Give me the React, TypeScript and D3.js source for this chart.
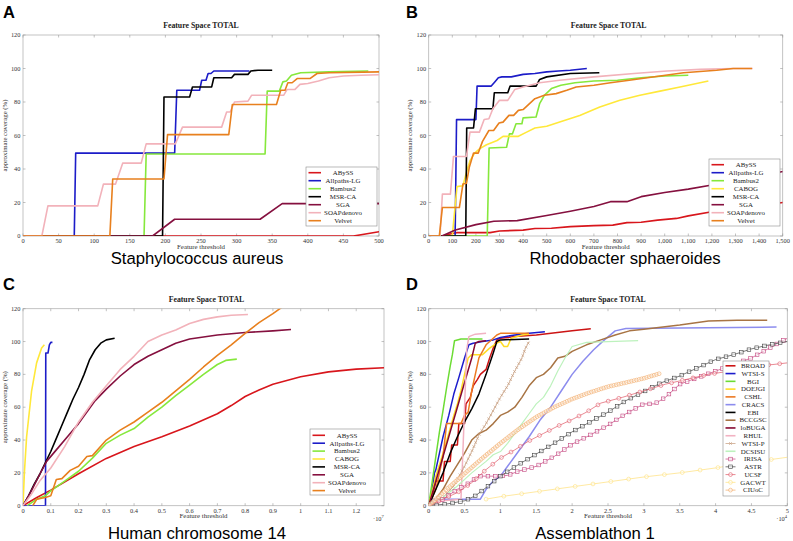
import React from 'react';
import * as d3 from 'd3';

type Pt = [number, number];

// ---------- Panel A : Staphylococcus aureus ----------
const A_ABySS: Pt[] = [[0,0],[464,0],[500,2.5]];
const A_Allpaths: Pt[] = [[0,0],[72,0],[74,49.5],[213,49.5],[216,87],[248,87],[251,93],[257,93],[260,97],[264,97],[268,98.5],[318,98.5]];
const A_Bambus2: Pt[] = [[0,0],[170,0],[173,49],[340,49],[343,86.5],[360,86.5],[365,92],[370,92.5],[377,96],[390,97.5],[430,98],[485,98.5]];
const A_MSRCA: Pt[] = [[0,0],[196,0],[198,83],[234,83],[238,89],[265,89],[268,94.5],[293,94.5],[297,96.5],[316,96.5],[320,98.5],[330,99],[350,99]];
const A_SGA: Pt[] = [[0,0],[182,0],[213,10],[333,10],[364,19.3],[500,19.3]];
const A_SOAP: Pt[] = [[0,0],[26.5,0],[35,18],[105,18],[113,31],[130,31],[140,43.5],[166,43.5],[173,55],[214,55],[224,65],[279,65],[286,74],[291,74],[297,80],[316,80.5],[321,84],[366,84],[371,87.5],[382,87.5],[389,90.5],[400,91],[415,92.5],[430,94.5],[450,95.5],[475,96],[500,96.3]];
const A_Velvet: Pt[] = [[0,0],[122,0],[126,34],[198,34],[203,60.5],[289,60.5],[294,78.5],[356,78.5],[362,87],[368,87],[372,91.5],[378,91.5],[385,94],[403,94],[413,97],[430,97.5],[500,98]];
const A_X_TICKS = [0,50,100,150,200,250,300,350,400,450,500];

// ---------- Panel B : Rhodobacter sphaeroides ----------
const B_ABySS: Pt[] = [[56,0],[100,1.5],[120,2],[260,2],[300,3],[400,3.5],[450,4.5],[520,4.6],[600,5.6],[700,6.2],[780,6.5],[840,8],[900,8.2],[970,9.5],[1050,10.5],[1100,12],[1200,14.5],[1300,16.5],[1400,18],[1500,20]];
const B_Allpaths: Pt[] = [[0,0],[112,0],[118,69.5],[200,69.5],[205,89.5],[265,89.5],[280,92],[295,94.5],[310,95],[350,95],[400,96.5],[450,97],[500,98],[550,98.5],[600,99],[670,100]];
const B_Bambus2: Pt[] = [[0,0],[248,0],[256,52.5],[330,53],[342,61],[355,61],[370,67],[395,67],[400,70.5],[455,71],[470,79],[490,84],[520,88],[560,90],[620,91.5],[700,92.5],[800,93],[900,94.5],[1000,95.5],[1100,96]];
const B_CABOG: Pt[] = [[0,0],[100,0],[110,15],[120,29.5],[145,30],[160,38],[175,45],[195,49.5],[215,52],[245,54.5],[290,57],[315,59.5],[380,59.5],[415,62],[450,64.5],[500,65.5],[555,68],[640,72],[725,77],[810,81],[895,84],[980,86.5],[1065,89],[1135,91],[1185,92.5]];
const B_MSRCA: Pt[] = [[0,0],[157,0],[161,64.5],[190,64.5],[198,76],[272,76],[278,85.5],[335,85.5],[345,89.5],[455,89.5],[470,93.5],[500,95],[600,97],[723,97.5]];
const B_SGA: Pt[] = [[56,0],[113,3.6],[200,6.8],[276,8.8],[375,9.2],[500,12.2],[600,14.8],[700,17.6],[770,20.5],[840,20.5],[900,23.5],[1000,26],[1100,28],[1200,30.5],[1300,33],[1400,35.5],[1500,38.5]];
const B_SOAP: Pt[] = [[0,0],[48,0],[58,25],[92,25],[105,47.5],[160,47.5],[175,62],[215,62],[235,69.5],[255,70],[272,76],[300,81],[335,81],[365,87.5],[400,89],[470,91.5],[555,93],[700,95],[870,97],[1010,98.5],[1150,99.5],[1290,100],[1373,100]];
const B_Velvet: Pt[] = [[0,0],[45,0],[58,17],[130,17],[145,31],[160,31.5],[172,41],[190,49.5],[210,49.5],[228,56.5],[255,63],[275,63],[298,67.5],[315,68],[340,72],[360,72],[380,75],[400,75.5],[450,82],[490,84],[540,85],[585,87],[625,89],[700,90],[770,91.5],[850,93],[980,95.5],[1080,97.5],[1220,99],[1290,100],[1370,100]];
const B_X_TICKS = [0,100,200,300,400,500,600,700,800,900,1000,1100,1200,1300,1400,1500];

// ---------- Panel C : Human chromosome 14 (x in 1e7) ----------
const C_ABySS: Pt[] = [[0,0],[0.05,5],[0.1,9.5],[0.2,19.5],[0.3,28.8],[0.4,36],[0.5,42],[0.6,48.5],[0.7,56],[0.75,61],[0.8,66.5],[0.85,70.5],[0.9,74],[1.0,78.5],[1.1,81.5],[1.2,83.2],[1.3,84]];
const C_Allpaths: Pt[] = [[0,0],[0.081,0],[0.082,93],[0.09,93],[0.095,98],[0.1,99.5],[0.106,99.5]];
const C_Bambus2: Pt[] = [[0.015,0],[0.05,4],[0.08,6],[0.1,9],[0.15,15],[0.2,21],[0.25,29],[0.3,38],[0.35,43],[0.4,47],[0.45,54],[0.5,60],[0.55,67],[0.6,73.5],[0.65,80],[0.7,86],[0.73,88.5],[0.77,89.3]];
const C_CABOG: Pt[] = [[0,0],[0.005,20],[0.013,42],[0.031,70],[0.049,87],[0.067,96],[0.077,98]];
const C_MSRCA: Pt[] = [[0,0],[0.02,6],[0.04,13],[0.06,19],[0.08,26],[0.1,33],[0.12,41],[0.14,49],[0.16,57],[0.18,65],[0.2,72],[0.22,80],[0.24,89],[0.26,95],[0.28,99],[0.3,101],[0.33,102]];
const C_SGA: Pt[] = [[0,0],[0.03,9],[0.06,19],[0.085,27],[0.12,34],[0.16,42],[0.2,50],[0.26,64],[0.3,71],[0.35,79],[0.4,86],[0.45,91],[0.5,95],[0.55,99],[0.6,101.5],[0.7,104],[0.8,105.5],[0.9,106.5],[0.965,107.3]];
const C_SOAP: Pt[] = [[0,0],[0.03,7],[0.06,15],[0.1,23],[0.15,36],[0.2,51],[0.25,63],[0.3,73],[0.35,83],[0.4,91],[0.45,100],[0.5,104],[0.55,107],[0.6,111],[0.65,113.5],[0.7,115],[0.75,116],[0.81,116.5]];
const C_Velvet: Pt[] = [[0.035,0],[0.05,4],[0.08,5],[0.1,6],[0.12,16],[0.14,16.5],[0.17,21.5],[0.2,24],[0.23,30],[0.25,30.5],[0.3,40],[0.35,46],[0.4,51],[0.45,57],[0.5,63],[0.55,70],[0.6,77],[0.65,84.5],[0.7,91.5],[0.75,98],[0.8,105],[0.85,111.5],[0.9,117],[0.95,123]];
const C_X_TICKS = [0,0.1,0.2,0.3,0.4,0.5,0.6,0.7,0.8,0.9,1,1.1,1.2];

// ---------- Panel D : Assemblathon 1 (x in 1e4) ----------
const D_BROAD: Pt[] = [[0,0],[0.05,5],[0.1,15],[0.2,15],[0.22,27],[0.3,27],[0.32,37],[0.4,37],[0.42,50],[0.5,50],[0.52,62],[0.58,66],[0.62,73],[0.68,77],[0.72,80],[0.8,83],[0.85,90],[0.9,96],[0.95,101],[1.0,102],[1.2,103],[1.5,104],[2.0,106.5],[2.26,107.8]];
const D_WTSIS: Pt[] = [[0,0],[0.05,10],[0.08,20],[0.1,22],[0.15,32],[0.2,42],[0.28,55],[0.35,68],[0.42,78],[0.5,90],[0.56,98],[0.62,99],[0.75,100],[0.9,101],[1.0,102.5],[1.2,104],[1.4,105],[1.62,106]];
const D_BGI: Pt[] = [[0,0],[0.05,15],[0.1,30],[0.15,45],[0.2,58],[0.25,72],[0.3,85],[0.33,92],[0.36,100.5],[0.45,101.5],[0.75,101.5]];
const D_DOEJGI: Pt[] = [[0,0],[0.1,18],[0.2,32],[0.3,47],[0.35,55],[0.4,62],[0.45,70],[0.5,80],[0.55,90],[0.6,92],[0.75,92],[0.85,96],[0.95,99],[1.0,100],[1.05,97],[1.1,97],[1.15,102],[1.3,104],[1.4,104.5]];
const D_CSHL: Pt[] = [[0,0],[0.05,5],[0.1,10],[0.15,20],[0.2,30],[0.25,50],[0.45,50],[0.5,55],[0.55,57],[0.6,70],[0.65,80],[0.7,90],[0.8,98],[0.95,104],[1.0,105],[1.4,105]];
const D_CRACS: Pt[] = [[0,0],[0.05,4],[0.72,4],[0.8,10],[0.9,15],[1.0,18],[1.1,24],[1.25,33],[1.4,42],[1.55,52],[1.7,60],[1.85,70],[2.0,80],[2.15,88],[2.3,95],[2.45,101],[2.6,106.5],[2.75,108],[3.5,108.3],[4.85,108.8]];
const D_EBI: Pt[] = [[0,0],[0.1,10],[0.2,20],[0.3,32],[0.4,42],[0.5,51],[0.6,59],[0.7,68],[0.8,80],[0.9,93],[0.95,100],[1.0,101],[1.4,101.5]];
const D_BCCGSC: Pt[] = [[0,0],[0.1,4],[0.2,10],[0.3,18],[0.4,25],[0.5,32],[0.6,40],[0.7,44],[0.8,46],[0.9,50],[1.0,55],[1.1,57],[1.2,60],[1.3,66],[1.4,73],[1.5,78],[1.6,80],[1.7,84],[1.8,90],[1.9,91],[2.0,94],[2.2,98],[2.4,101],[2.6,104],[2.8,106.5],[3.0,107.5],[3.5,110],[3.9,112.5],[4.3,113],[4.72,113]];
const D_loBUGA: Pt[] = [[0,0],[0.1,15],[0.2,30],[0.3,45],[0.4,60],[0.5,75],[0.6,90],[0.65,99],[0.7,100],[0.8,100.5]];
const D_RHUL: Pt[] = [[0,0],[0.2,3],[0.45,4],[0.47,25],[0.5,60],[0.53,95],[0.56,103],[0.65,104.5],[0.8,105]];
const D_WTSIP: Pt[] = [[0,0],[0.2,5],[0.35,12],[0.5,24],[0.6,33],[0.7,43],[0.8,50],[0.9,58],[1.0,66],[1.1,73],[1.2,82],[1.3,90],[1.35,96],[1.4,100]];
const D_DCSISU: Pt[] = [[0,0],[0.2,5],[0.4,12],[0.6,20],[0.8,27],[0.9,31],[1.0,33],[1.1,38],[1.2,44],[1.3,50],[1.4,56],[1.5,62],[1.6,66],[1.7,73],[1.8,82],[1.9,90],[2.0,97],[2.2,99.5],[2.5,100],[2.92,100.5]];
const D_IRISA: Pt[] = [[0,0],[0.1,2],[0.2,4],[0.3,7],[0.4,10],[0.5,12],[0.6,15],[0.7,18],[0.8,18],[1.0,18],[1.1,18.5],[1.25,21],[1.5,24],[1.75,30],[2.0,37.5],[2.25,43],[2.5,49],[2.75,56],[3.0,62],[3.15,62],[3.3,66],[3.5,74],[3.75,78],[4.0,82],[4.25,86],[4.5,90],[4.75,96],[5.0,102]];
const D_ASTR: Pt[] = [[0,0],[0.25,1],[0.5,3],[0.65,6],[0.8,11],[1.0,18],[1.25,25],[1.5,31.5],[1.75,38],[2.0,45],[2.25,51],[2.5,57],[2.75,64],[3.0,69.5],[3.25,75],[3.5,79],[3.75,84],[4.0,89],[4.25,92],[4.5,95.5],[4.75,98],[5.0,100]];
const D_UCSF: Pt[] = [[0,0],[0.2,4],[0.4,8],[0.6,14],[0.8,22],[1.0,29],[1.2,34],[1.4,39.5],[1.6,44],[1.8,48.5],[2.0,52.5],[2.2,57],[2.4,62.5],[2.7,66],[3.0,70],[3.3,74],[3.6,77],[3.9,80],[4.2,82],[4.5,85],[4.8,86],[5.0,87]];
const D_GACWT: Pt[] = [[0.8,4],[1.0,5.5],[1.5,8.5],[2.0,11.5],[2.5,14.5],[3.0,17.5],[3.5,20],[4.0,23],[4.5,26.5],[5.0,29.5]];
const D_CIUoC: Pt[] = [[0,0],[0.1,4],[0.25,10],[0.5,19.5],[0.75,29],[1.0,38],[1.25,46.5],[1.5,54],[1.75,60],[2.0,65],[2.25,69],[2.5,72.5],[2.75,75],[3.0,77.6],[3.22,80.5]];
const D_X_TICKS = [0,0.5,1,1.5,2,2.5,3,3.5,4,4.5,5];

const Y_TICKS = [0,20,40,60,80,100,120];

type Marker = 'square' | 'circle' | 'x' | null;
interface Series { name: string; data: Pt[]; color: string; width: number; marker?: Marker; spacing?: number; }

const ABC_COLORS: Record<string, string> = {
  ABySS: '#d8161c', 'Allpaths-LG': '#1c1cc8', Bambus2: '#86e83c', CABOG: '#ffe83a',
  'MSR-CA': '#000000', SGA: '#85103f', SOAPdenovo: '#f2b2ba', Velvet: '#e8801e',
};
const mk = (name: string, data: Pt[]): Series => ({ name, data, color: ABC_COLORS[name], width: 1.6 });

const seriesA: Series[] = [mk('ABySS', A_ABySS), mk('Allpaths-LG', A_Allpaths), mk('Bambus2', A_Bambus2), mk('MSR-CA', A_MSRCA), mk('SGA', A_SGA), mk('SOAPdenovo', A_SOAP), mk('Velvet', A_Velvet)];
const seriesB: Series[] = [mk('ABySS', B_ABySS), mk('Allpaths-LG', B_Allpaths), mk('Bambus2', B_Bambus2), mk('CABOG', B_CABOG), mk('MSR-CA', B_MSRCA), mk('SGA', B_SGA), mk('SOAPdenovo', B_SOAP), mk('Velvet', B_Velvet)];
const seriesC: Series[] = [mk('ABySS', C_ABySS), mk('Allpaths-LG', C_Allpaths), mk('Bambus2', C_Bambus2), mk('CABOG', C_CABOG), mk('MSR-CA', C_MSRCA), mk('SGA', C_SGA), mk('SOAPdenovo', C_SOAP), mk('Velvet', C_Velvet)];
const seriesD: Series[] = [
  { name: 'BROAD', data: D_BROAD, color: '#cc1414', width: 1.5 },
  { name: 'WTSI-S', data: D_WTSIS, color: '#1c1ccc', width: 1.5 },
  { name: 'BGI', data: D_BGI, color: '#6cdc34', width: 1.5 },
  { name: 'DOEJGI', data: D_DOEJGI, color: '#ffdc26', width: 1.5 },
  { name: 'CSHL', data: D_CSHL, color: '#ec7a22', width: 1.5 },
  { name: 'CRACS', data: D_CRACS, color: '#8c8cee', width: 1.5 },
  { name: 'EBI', data: D_EBI, color: '#000000', width: 1.5 },
  { name: 'BCCGSC', data: D_BCCGSC, color: '#a87444', width: 1.5 },
  { name: 'loBUGA', data: D_loBUGA, color: '#860830', width: 1.5 },
  { name: 'RHUL', data: D_RHUL, color: '#f2b2c2', width: 1.5 },
  { name: 'WTSI-P', data: D_WTSIP, color: '#c49a7a', width: 0.7, marker: 'x', spacing: 4.5 },
  { name: 'DCSISU', data: D_DCSISU, color: '#bdf2bd', width: 1.2 },
  { name: 'IRISA', data: D_IRISA, color: '#c4447e', width: 0.7, marker: 'square', spacing: 7.5 },
  { name: 'ASTR', data: D_ASTR, color: '#404040', width: 0.7, marker: 'square', spacing: 8 },
  { name: 'UCSF', data: D_UCSF, color: '#e05866', width: 0.7, marker: 'circle', spacing: 11 },
  { name: 'GACWT', data: D_GACWT, color: '#ffe07a', width: 0.7, marker: 'circle', spacing: 18 },
  { name: 'CIUoC', data: D_CIUoC, color: '#f2aa66', width: 0.7, marker: 'circle', spacing: 2.6 },
];

interface PanelSpec {
  id: string; letter: string; letterX: number; letterY: number;
  title: string; titleY: number; subtitle: string; subX: number; subY: number;
  left: number; right: number; top: number; bottom: number;
  xDomain: [number, number]; xTicks: number[]; exponent?: string;
  series: Series[];
  legend: { x: number; y: number; w: number; h: number; first: number; step: number };
}

const panels: PanelSpec[] = [
  { id: 'A', letter: 'A', letterX: 3, letterY: 18, title: 'Feature Space TOTAL', titleY: 27.5, subtitle: 'Staphylococcus aureus', subX: 197, subY: 264,
    left: 23, right: 379, top: 35, bottom: 236, xDomain: [0, 500], xTicks: A_X_TICKS, series: seriesA,
    legend: { x: 306, y: 167, w: 71, h: 59, first: 172.7, step: 8 } },
  { id: 'B', letter: 'B', letterX: 406, letterY: 18, title: 'Feature Space TOTAL', titleY: 27.5, subtitle: 'Rhodobacter sphaeroides', subX: 625, subY: 264,
    left: 428.7, right: 782.7, top: 35, bottom: 236, xDomain: [0, 1500], xTicks: B_X_TICKS, series: seriesB,
    legend: { x: 709, y: 159, w: 71, h: 67, first: 164.7, step: 8 } },
  { id: 'C', letter: 'C', letterX: 3, letterY: 290, title: 'Feature Space TOTAL', titleY: 301.5, subtitle: 'Human chromosome 14', subX: 197, subY: 538.5,
    left: 23, right: 384, top: 308.7, bottom: 505.7, xDomain: [0, 1.3], xTicks: C_X_TICKS, exponent: '7', series: seriesC,
    legend: { x: 310, y: 429, w: 70, h: 66, first: 435.3, step: 7.9 } },
  { id: 'D', letter: 'D', letterX: 406, letterY: 290, title: 'Feature Space TOTAL', titleY: 301.5, subtitle: 'Assemblathon 1', subX: 595, subY: 538.5,
    left: 428.7, right: 787.3, top: 308.7, bottom: 505.7, xDomain: [0, 5], xTicks: D_X_TICKS, exponent: '4', series: seriesD,
    legend: { x: 723, y: 361, w: 46, h: 135, first: 365.8, step: 7.77 } },
];

function sampleAlong(pts: Pt[], step: number): Pt[] {
  const out: Pt[] = [];
  if (pts.length < 2) return out;
  let next = 0;
  let acc = 0;
  for (let i = 1; i < pts.length; i++) {
    const [x0, y0] = pts[i - 1];
    const [x1, y1] = pts[i];
    const len = Math.hypot(x1 - x0, y1 - y0);
    while (next <= acc + len) {
      const t = len === 0 ? 0 : (next - acc) / len;
      out.push([x0 + (x1 - x0) * t, y0 + (y1 - y0) * t]);
      next += step;
    }
    acc += len;
  }
  return out;
}

function MarkerShape({ m, x, y, color }: { m: Marker; x: number; y: number; color: string }) {
  if (m === 'square') return <rect x={x - 1.8} y={y - 1.8} width={3.6} height={3.6} fill="white" fillOpacity={0.6} stroke={color} strokeWidth={0.6} />;
  if (m === 'circle') return <circle cx={x} cy={y} r={1.9} fill="white" fillOpacity={0.5} stroke={color} strokeWidth={0.6} />;
  if (m === 'x') return <path d={`M${x - 1.4},${y - 1.4}L${x + 1.4},${y + 1.4}M${x - 1.4},${y + 1.4}L${x + 1.4},${y - 1.4}`} stroke={color} strokeWidth={0.6} />;
  return null;
}

const SERIF = "'Liberation Serif', 'DejaVu Serif', serif";
const SANS = "'Liberation Sans', Arial, sans-serif";

function Panel({ p }: { p: PanelSpec }) {
  const x = d3.scaleLinear().domain(p.xDomain).range([p.left, p.right]);
  const y = d3.scaleLinear().domain([0, 120]).range([p.bottom, p.top]);
  const line = d3.line<Pt>().x(d => x(d[0])).y(d => y(d[1]));
  const fmt = (v: number) => (p.xDomain[1] >= 1000 ? d3.format(',')(v) : String(v));
  const cx = (p.left + p.right) / 2;
  const cy = (p.top + p.bottom) / 2;
  const clipId = `clip-${p.id}`;
  const tick = 2.5;
  const lg = p.legend;
  const sampleW = p.id === 'D' ? 10 : 12.5;
  const textCx = p.id === 'D' ? lg.x + 30 : lg.x + 37;
  return (
    <g>
      <defs>
        <clipPath id={clipId}><rect x={p.left} y={p.top} width={p.right - p.left} height={p.bottom - p.top} /></clipPath>
      </defs>
      <text x={p.letterX} y={p.letterY} fontFamily={SANS} fontWeight="bold" fontSize={16.5} fill="#000">{p.letter}</text>
      <text x={cx + (p.id === 'B' || p.id === 'C' ? 3 : 0)} y={p.titleY} textAnchor="middle" fontFamily={SERIF} fontWeight="bold" fontSize={7.8} fill="#222">{p.title}</text>
      <rect x={p.left} y={p.top} width={p.right - p.left} height={p.bottom - p.top} fill="white" stroke="#b4b4b4" strokeWidth={0.8} />
      {p.xTicks.map(t => (
        <g key={'xt' + t}>
          <line x1={x(t)} x2={x(t)} y1={p.bottom} y2={p.bottom - tick} stroke="#999" strokeWidth={0.6} />
          <line x1={x(t)} x2={x(t)} y1={p.top} y2={p.top + tick} stroke="#999" strokeWidth={0.6} />
          <text x={x(t)} y={p.bottom + 6.8} textAnchor="middle" fontFamily={SERIF} fontSize={6.4} fill="#333">{fmt(t)}</text>
        </g>
      ))}
      {Y_TICKS.map(t => (
        <g key={'yt' + t}>
          <line x1={p.left} x2={p.left + tick} y1={y(t)} y2={y(t)} stroke="#999" strokeWidth={0.6} />
          <line x1={p.right} x2={p.right - tick} y1={y(t)} y2={y(t)} stroke="#999" strokeWidth={0.6} />
          <text x={p.left - 2.5} y={y(t) + 2.1} textAnchor="end" fontFamily={SERIF} fontSize={6.4} fill="#333">{t}</text>
        </g>
      ))}
      <text x={cx} y={p.bottom + 12.5} textAnchor="middle" fontFamily={SERIF} fontSize={6.9} fill="#333">Feature threshold</text>
      <text transform={`translate(${p.left - 16.5},${cy}) rotate(-90)`} textAnchor="middle" fontFamily={SERIF} fontSize={6.8} fill="#333">approximate coverage (%)</text>
      {p.exponent && (
        <text x={p.right - 11} y={p.bottom + 15} fontFamily={SERIF} fontSize={6.4} fill="#333">
          ·10<tspan dy={-2.5} fontSize={4.5}>{p.exponent}</tspan>
        </text>
      )}
      <g clipPath={`url(#${clipId})`}>
        {p.series.map(s => {
          const scaled: Pt[] = s.data.map(d => [x(d[0]), y(d[1])]);
          return (
            <g key={s.name}>
              <path d={line(s.data) || ''} fill="none" stroke={s.color} strokeWidth={s.width} strokeLinejoin="round" />
              {s.marker && sampleAlong(scaled, s.spacing || 8).map((q, i) => (
                <MarkerShape key={i} m={s.marker!} x={q[0]} y={q[1]} color={s.color} />
              ))}
            </g>
          );
        })}
      </g>
      <rect x={lg.x} y={lg.y} width={lg.w} height={lg.h} fill="white" stroke="#8c8c8c" strokeWidth={0.6} />
      {p.series.map((s, i) => {
        const yy = lg.first + i * lg.step;
        const x1 = lg.x + 2.5, x2 = lg.x + 2.5 + sampleW;
        return (
          <g key={'lg' + s.name}>
            <line x1={x1} x2={x2} y1={yy} y2={yy} stroke={s.color} strokeWidth={s.marker ? 0.7 : 1.6} />
            {s.marker && <MarkerShape m={s.marker} x={(x1 + x2) / 2} y={yy} color={s.color} />}
            <text x={textCx} y={yy + 2.3} textAnchor="middle" fontFamily={SERIF} fontSize={6.9} fill="#222">{s.name}</text>
          </g>
        );
      })}
      <text x={p.subX} y={p.subY} textAnchor="middle" fontFamily={SANS} fontSize={16.7} fill="#000">{p.subtitle}</text>
    </g>
  );
}

export default function App() {
  return (
    <svg width={793} height={541} viewBox="0 0 793 541" style={{ position: 'absolute', left: 0, top: 0, background: 'white' }}>
      <rect x={0} y={0} width={793} height={541} fill="white" />
      {panels.map(p => <Panel key={p.id} p={p} />)}
    </svg>
  );
}
